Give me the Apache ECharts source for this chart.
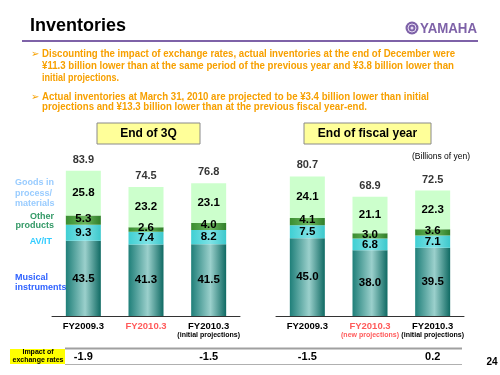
<!DOCTYPE html>
<html>
<head>
<meta charset="utf-8">
<script src="https://cdn.jsdelivr.net/npm/echarts@6/dist/echarts.min.js"></script>
<style>
  html, body { margin: 0; padding: 0; background: #fff; }
  #main { width: 500px; height: 375px; }
</style>
</head>
<body>
<div id="main"></div>
<script>
// data (billions of yen)
const categories = ['FY2009.3', 'FY2010.3', 'FY2010.3']
const notes3Q = ['', '', '(initial projections)']
const notesFY = ['', '(new projections)', '(initial projections)']
const redCategory = [false, true, false]

const musical3Q = [43.5, 41.3, 41.5]
const avit3Q = [9.3, 7.4, 8.2]
const other3Q = [5.3, 2.6, 4.0]
const goods3Q = [25.8, 23.2, 23.1]
const total3Q = [83.9, 74.5, 76.8]

const musicalFY = [45.0, 38.0, 39.5]
const avitFY = [7.5, 6.8, 7.1]
const otherFY = [4.1, 3.0, 3.6]
const goodsFY = [24.1, 21.1, 22.3]
const totalFY = [80.7, 68.9, 72.5]

const impact3Q = ['-1.9', '', '-1.5']
const impactFY = ['-1.5', '', '0.2']

const FONT = '"Liberation Sans", Arial, sans-serif'
const ORANGE = '#f7a000'

const grad = (a, b, c) => new echarts.graphic.LinearGradient(0, 0, 1, 0, [
  { offset: 0, color: a }, { offset: 0.55, color: b }, { offset: 1, color: c },
])

const colors = {
  musical: grad('#1f7f79', '#9bd0cc', '#0f6a63'),
  avit: grad('#3fcfd3', '#7fe3e6', '#3cc8cc'),
  other: grad('#3a8e30', '#6cb65e', '#2f7e28'),
  goods: '#ccffcc',
}

const chart = echarts.init(document.getElementById('main'))

const segment = (idx, name, data, color, dy) => ({
  name: name,
  type: 'bar',
  xAxisIndex: idx,
  yAxisIndex: idx,
  stack: 'p' + idx,
  barWidth: 35,
  silent: true,
  itemStyle: { color: color },
  label: {
    show: true,
    position: 'inside',
    offset: [0, dy || 0],
    color: '#000',
    fontFamily: FONT,
    fontWeight: 'bold',
    fontSize: 11.5,
    formatter: (p) => p.value.toFixed(1),
  },
  data: data,
})

const totals = (idx, data) => ({
  type: 'scatter',
  xAxisIndex: idx,
  yAxisIndex: idx,
  symbolSize: 1,
  silent: true,
  itemStyle: { color: 'rgba(0,0,0,0)' },
  label: {
    show: true,
    position: 'top',
    distance: 5,
    color: '#000',
    fontFamily: FONT,
    fontWeight: 'bold',
    fontSize: 11,
    formatter: (p) => p.value.toFixed(1),
  },
  data: data,
})

const xAxis = (idx, notes) => ({
  type: 'category',
  gridIndex: idx,
  data: categories,
  axisLine: { lineStyle: { color: '#333', width: 1 } },
  axisTick: { inside: true, length: 3, lineStyle: { color: '#333' } },
  axisLabel: {
    interval: 0,
    margin: 5,
    formatter: (v, i) => {
      const r = redCategory[i]
      let s = '{' + (r ? 'r' : 'k') + '|' + v + '}'
      if (notes[i]) s += '\n{' + (r ? 'rn' : 'n') + '|' + notes[i] + '}'
      return s
    },
    rich: {
      k: { color: '#000', fontFamily: FONT, fontWeight: 'bold', fontSize: 9.5, lineHeight: 10 },
      r: { color: '#ff5a5a', fontFamily: FONT, fontWeight: 'bold', fontSize: 9.5, lineHeight: 10 },
      n: { color: '#000', fontFamily: FONT, fontWeight: 'bold', fontSize: 7, lineHeight: 9 },
      rn: { color: '#ff5a5a', fontFamily: FONT, fontWeight: 'bold', fontSize: 7, lineHeight: 9 },
    },
  },
})

const yAxis = (idx) => ({ type: 'value', gridIndex: idx, min: 0, max: 100, show: false })

const txt = (x, y, text, fill, font, align) => ({
  type: 'text',
  silent: true,
  style: {
    x: x, y: y, text: text, fill: fill, font: font,
    align: align || 'left', textAlign: align || 'left',
    verticalAlign: 'middle', textVerticalAlign: 'middle',
  },
})

// text squeezed horizontally to the width it takes on the slide
const measureCtx = document.createElement('canvas').getContext('2d')
const fitTxt = (x, y, text, fill, font, width) => {
  measureCtx.font = font
  const w = measureCtx.measureText(text).width
  const el = txt(0, 0, text, fill, font)
  el.x = x
  el.y = y
  el.scaleX = Math.min(1, width / w)
  return el
}

const bulletFont = 'bold 11px ' + FONT
const staticGraphic = [
  // title + logo
  txt(30, 26, 'Inventories', '#000', 'bold 18px ' + FONT),
  { type: 'line', silent: true, shape: { x1: 22, y1: 41, x2: 478, y2: 41 }, style: { stroke: '#7e62a8', lineWidth: 2 } },
  { type: 'circle', silent: true, shape: { cx: 412, cy: 28, r: 6.5 }, style: { fill: '#7e62a8' } },
  { type: 'circle', silent: true, shape: { cx: 412, cy: 28, r: 4 }, style: { fill: 'none', stroke: '#e6dcf2', lineWidth: 1 } },
  { type: 'circle', silent: true, shape: { cx: 412, cy: 28, r: 1.5 }, style: { fill: '#e6dcf2' } },
  fitTxt(420, 28.5, 'YAMAHA', '#7e62a8', 'bold 15px ' + FONT, 57),
  // bullets
  txt(31, 54, '➢', ORANGE, '10px "DejaVu Sans"'),
  fitTxt(42, 54, 'Discounting the impact of exchange rates, actual inventories at the end of December were', ORANGE, bulletFont, 413),
  fitTxt(42, 66, '¥11.3 billion lower than at the same period of the previous year and ¥3.8 billion lower than', ORANGE, bulletFont, 412),
  fitTxt(42, 78, 'initial projections.', ORANGE, bulletFont, 77),
  txt(31, 97, '➢', ORANGE, '10px "DejaVu Sans"'),
  fitTxt(42, 97, 'Actual inventories at March 31, 2010 are projected to be ¥3.4 billion lower than initial', ORANGE, bulletFont, 387),
  fitTxt(42, 107, 'projections and ¥13.3 billion lower than at the previous fiscal year-end.', ORANGE, bulletFont, 325),
  // panel headers
  { type: 'rect', silent: true, shape: { x: 97, y: 123, width: 103, height: 21 }, style: { fill: '#ffff99', stroke: '#8a8a8a', lineWidth: 1 } },
  txt(148.5, 133.5, 'End of 3Q', '#000', 'bold 12px ' + FONT, 'center'),
  { type: 'rect', silent: true, shape: { x: 304, y: 123, width: 127, height: 21 }, style: { fill: '#ffff99', stroke: '#8a8a8a', lineWidth: 1 } },
  txt(367.5, 133.5, 'End of fiscal year', '#000', 'bold 12px ' + FONT, 'center'),
  fitTxt(412, 157, '(Billions of yen)', '#000', '8.5px ' + FONT, 62),
  // segment names
  txt(15, 183, 'Goods in', '#99ccff', 'bold 9px ' + FONT),
  txt(15, 194, 'process/', '#99ccff', 'bold 9px ' + FONT),
  txt(15, 204, 'materials', '#99ccff', 'bold 9px ' + FONT),
  txt(54, 217, 'Other', '#339966', 'bold 9px ' + FONT, 'right'),
  txt(54, 226, 'products', '#339966', 'bold 9px ' + FONT, 'right'),
  txt(52, 242, 'AV/IT', '#33ccff', 'bold 9px ' + FONT, 'right'),
  txt(15, 278, 'Musical', '#2f62ff', 'bold 9px ' + FONT),
  txt(15, 288, 'instruments', '#2f62ff', 'bold 9px ' + FONT),
  // impact row frame
  { type: 'line', silent: true, shape: { x1: 65, y1: 348.5, x2: 462, y2: 348.5 }, style: { stroke: '#a0a0a0', lineWidth: 2 } },
  { type: 'line', silent: true, shape: { x1: 65, y1: 364.5, x2: 462, y2: 364.5 }, style: { stroke: '#b0b0b0', lineWidth: 1 } },
  { type: 'rect', silent: true, shape: { x: 10, y: 349, width: 55, height: 15 }, style: { fill: '#ffff00' } },
  txt(38, 352.5, 'Impact of', '#000', 'bold 7px ' + FONT, 'center'),
  txt(38, 360, 'exchange rates', '#000', 'bold 7px ' + FONT, 'center'),
  txt(492, 362, '24', '#000', 'bold 10px ' + FONT, 'center'),
]

chart.setOption({
  animation: false,
  grid: [
    { left: 52, width: 188, top: 143, bottom: 59 },
    { left: 276, width: 188, top: 143, bottom: 59 },
  ],
  xAxis: [xAxis(0, notes3Q), xAxis(1, notesFY)],
  yAxis: [yAxis(0), yAxis(1)],
  series: [
    segment(0, 'Musical instruments', musical3Q, colors.musical),
    segment(0, 'AV/IT', avit3Q, colors.avit),
    segment(0, 'Other products', other3Q, colors.other, -1.5),
    segment(0, 'Goods in process/materials', goods3Q, colors.goods),
    totals(0, total3Q),
    segment(1, 'Musical instruments', musicalFY, colors.musical),
    segment(1, 'AV/IT', avitFY, colors.avit),
    segment(1, 'Other products', otherFY, colors.other, -1.5),
    segment(1, 'Goods in process/materials', goodsFY, colors.goods),
    totals(1, totalFY),
  ],
  graphic: { elements: staticGraphic },
})

// impact of exchange rates row, placed under each category via the x axes
const impactGraphic = []
;[impact3Q, impactFY].forEach((vals, idx) => {
  vals.forEach((v, i) => {
    if (!v) return
    const x = chart.convertToPixel({ xAxisIndex: idx }, i)
    impactGraphic.push(txt(x, 356.5, v, '#000', 'bold 11px ' + FONT, 'center'))
  })
})
chart.setOption({ graphic: { elements: staticGraphic.concat(impactGraphic) } })
</script>
</body>
</html>
